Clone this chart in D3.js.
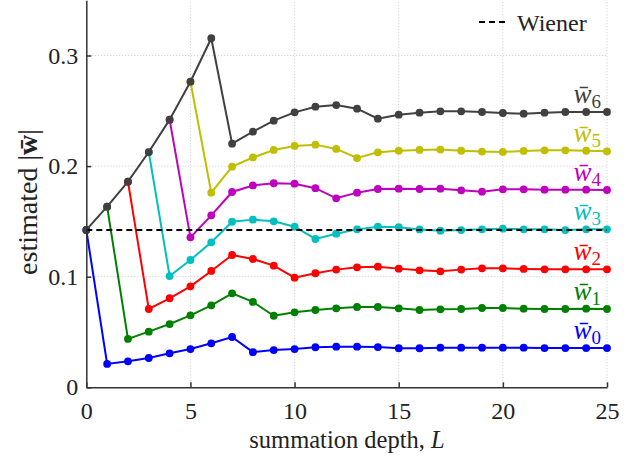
<!DOCTYPE html>
<html>
<head>
<meta charset="utf-8">
<script src="https://cdn.jsdelivr.net/npm/d3@7"></script>
<style>
    body { margin: 0; background: #fff; }
    text { font-family: "Liberation Serif", "DejaVu Serif", "Times New Roman", serif; }
</style>
</head>
<body>
<div id="chart"></div>
<script>
var w = 641; // Set the width
var h = 457; // Set the height
var serif = "'Liberation Serif', 'DejaVu Serif', 'Times New Roman', serif";

// summation depth L = 0..25
var depths = d3.range(0, 26);
var xTicks = [0, 5, 10, 15, 20, 25];
var yTicks = [0, 0.1, 0.2, 0.3];
var wiener = 0.1423;

// each series starts at L = k (its own index) and runs to L = 25
var w0 = [0.1423, 0.0211, 0.0235, 0.0265, 0.0307, 0.0346, 0.0398, 0.0455, 0.0318, 0.0337, 0.0346, 0.0362, 0.0367,
          0.0367, 0.0364, 0.0353, 0.0353, 0.0358, 0.0358, 0.0358, 0.0358, 0.0358, 0.0355, 0.0355, 0.0355, 0.0355];
var w1 = [0.1633, 0.0437, 0.0503, 0.0572, 0.0651, 0.0741, 0.0850, 0.0772, 0.0647, 0.0678, 0.0699, 0.0714, 0.0726,
          0.0726, 0.0714, 0.0699, 0.0705, 0.0708, 0.0717, 0.0717, 0.0711, 0.0708, 0.0708, 0.0711, 0.0708];
var w2 = [0.1859, 0.0708, 0.0805, 0.0913, 0.1052, 0.1196, 0.1160, 0.1100, 0.0991, 0.1031, 0.1064, 0.1085, 0.1091,
          0.1073, 0.1058, 0.1049, 0.1064, 0.1076, 0.1076, 0.1070, 0.1067, 0.1067, 0.1067, 0.1067];
var w3 = [0.2127, 0.1006, 0.1151, 0.1311, 0.1497, 0.1516, 0.1501, 0.1452, 0.1341, 0.1389, 0.1428, 0.1452, 0.1447,
          0.1427, 0.1416, 0.1422, 0.1428, 0.1434, 0.1428, 0.1428, 0.1422, 0.1428, 0.1428];
var w4 = [0.2420, 0.1356, 0.1555, 0.1766, 0.1825, 0.1845, 0.1841, 0.1800, 0.1709, 0.1760, 0.1793, 0.1796, 0.1793,
          0.1796, 0.1781, 0.1769, 0.1790, 0.1790, 0.1787, 0.1787, 0.1787, 0.1784];
var w5 = [0.2763, 0.1760, 0.1995, 0.2078, 0.2146, 0.2182, 0.2194, 0.2155, 0.2073, 0.2125, 0.2139, 0.2146, 0.2149,
          0.2139, 0.2131, 0.2128, 0.2137, 0.2143, 0.2143, 0.2139, 0.2134];
var w6 = [0.1423, 0.1633, 0.1859, 0.2127, 0.2420, 0.2763, 0.3156, 0.2203, 0.2311, 0.2411, 0.2486, 0.2537, 0.2552,
          0.2519, 0.2429, 0.2465, 0.2483, 0.2495, 0.2495, 0.2489, 0.2480, 0.2474, 0.2483, 0.2489, 0.2489, 0.2489];

var seriesValues = [w0, w1, w2, w3, w4, w5, w6];
var seriesStart = [0, 1, 2, 3, 4, 5, 0];
var seriesNames = ["0", "1", "2", "3", "4", "5", "6"];
var colors = ["#0000ff", "#008000", "#ff0000", "#00bfbf", "#bf00bf", "#bfbf00", "#404040"];

var xScale = d3.scaleLinear().domain([0, 25]).range([86.3, 607]);
var yScale = d3.scaleLinear().domain([0, 0.35]).range([387.3, 0.2]);

var line = d3.line()
    .x(function(d) { return xScale(d.L); })
    .y(function(d) { return yScale(d.v); });

var svg = d3.select("#chart")
    .append("svg")
    .attr("width", w)
    .attr("height", h)
    .style("font-family", serif);

// dotted grid
svg.append("g")
    .selectAll("line")
    .data(xTicks.slice(1))
    .enter()
    .append("line")
    .attr("x1", function(d) { return xScale(d); })
    .attr("x2", function(d) { return xScale(d); })
    .attr("y1", yScale(0))
    .attr("y2", yScale(0.35))
    .attr("stroke", "#c8c8c8")
    .attr("stroke-width", 1)
    .attr("stroke-dasharray", "1,2");

svg.append("g")
    .selectAll("line")
    .data(yTicks.slice(1))
    .enter()
    .append("line")
    .attr("x1", xScale(0))
    .attr("x2", xScale(25))
    .attr("y1", function(d) { return yScale(d); })
    .attr("y2", function(d) { return yScale(d); })
    .attr("stroke", "#c8c8c8")
    .attr("stroke-width", 1)
    .attr("stroke-dasharray", "1,2");

// series lines and markers
seriesValues.forEach(function(vals, i) {
    var pts = vals.map(function(v, j) { return { L: depths[seriesStart[i] + j], v: v }; });
    var g = svg.append("g");
    g.append("path")
        .datum(pts)
        .attr("fill", "none")
        .attr("stroke", colors[i])
        .attr("stroke-width", 2)
        .attr("d", line);
    g.selectAll("circle")
        .data(pts)
        .enter()
        .append("circle")
        .attr("cx", function(d) { return xScale(d.L); })
        .attr("cy", function(d) { return yScale(d.v); })
        .attr("r", 3.9)
        .attr("fill", colors[i]);

    // label above the last point
    var last = pts[pts.length - 1];
    var lab = svg.append("text")
        .attr("x", 601)
        .attr("y", yScale(last.v) - 9)
        .attr("text-anchor", "end")
        .attr("fill", colors[i])
        .style("font-family", serif)
        .style("font-size", "27px");
    lab.append("tspan")
        .style("font-style", "italic")
        .text("w\u0304");
    lab.append("tspan")
        .attr("dy", 5)
        .style("font-size", "19px")
        .text(seriesNames[i]);
});

// Wiener reference line
svg.append("line")
    .attr("x1", xScale(0))
    .attr("x2", xScale(25))
    .attr("y1", yScale(wiener))
    .attr("y2", yScale(wiener))
    .attr("stroke", "#000")
    .attr("stroke-width", 2)
    .attr("stroke-dasharray", "6,4");

// axes with inward ticks
var xAxis = d3.axisBottom(xScale).tickValues(xTicks).tickSize(-5).tickSizeOuter(0).tickPadding(15);
var gx = svg.append("g")
    .attr("transform", "translate(0," + yScale(0) + ")")
    .call(xAxis);

var yAxis = d3.axisLeft(yScale).tickValues(yTicks).tickSize(-5).tickSizeOuter(0).tickPadding(8)
    .tickFormat(function(d) { return d === 0 ? "0" : d3.format(".1f")(d); });
var gy = svg.append("g")
    .attr("transform", "translate(" + xScale(0) + ",0)")
    .call(yAxis);

[gx, gy].forEach(function(g) {
    g.attr("font-family", serif);
    g.selectAll("path, line").attr("stroke", "#333").attr("stroke-width", 1.5);
    g.selectAll("text")
        .attr("fill", "#222")
        .style("font-family", serif)
        .style("font-size", "24px");
});

// legend
svg.append("line")
    .attr("x1", 479)
    .attr("x2", 505)
    .attr("y1", 22)
    .attr("y2", 22)
    .attr("stroke", "#000")
    .attr("stroke-width", 2)
    .attr("stroke-dasharray", "6,4");
svg.append("text")
    .attr("x", 517)
    .attr("y", 31)
    .attr("fill", "#222")
    .style("font-family", serif)
    .style("font-size", "24px")
    .text("Wiener");

// x-axis label
var xl = svg.append("text")
    .attr("x", 347)
    .attr("y", 448)
    .attr("text-anchor", "middle")
    .attr("fill", "#222")
    .style("font-family", serif)
    .style("font-size", "24.5px")
    .text("summation depth, ");
xl.append("tspan").style("font-style", "italic").text("L");

// y-axis label
var yl = svg.append("text")
    .attr("transform", "translate(37,202) rotate(-90)")
    .attr("text-anchor", "middle")
    .attr("fill", "#222")
    .style("font-family", serif)
    .style("font-size", "28px")
    .text("estimated |");
yl.append("tspan").style("font-weight", "bold").text("w\u0304");
yl.append("tspan").text("|");
</script>
</body>
</html>
